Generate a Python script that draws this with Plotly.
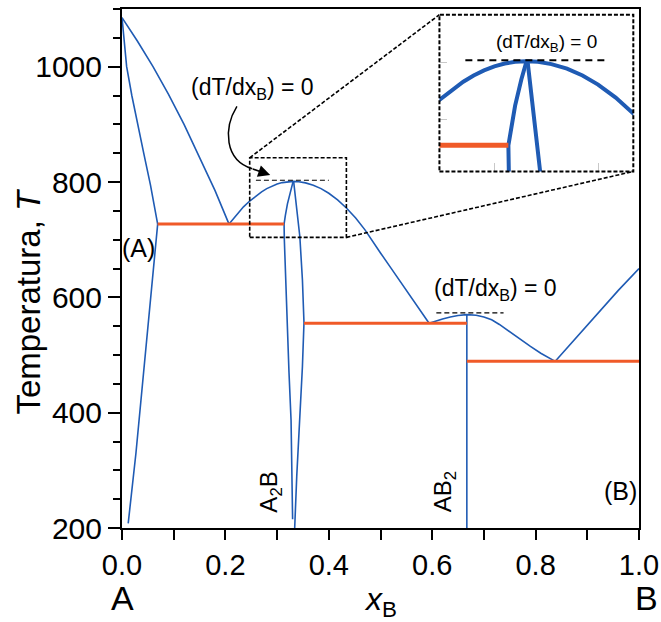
import plotly.graph_objects as go

# ---- phase-diagram data (composition x_B, temperature T) ----
liq_A_x = [0.0, 0.03, 0.06, 0.09, 0.12, 0.15, 0.18, 0.207]
liq_A_T = [1085, 1044, 1000, 952, 900, 844, 785, 727]

sol_A_x = [0.0, 0.009, 0.019, 0.030, 0.042, 0.055, 0.069]
sol_A_T = [1085, 1000, 950, 900, 850, 795, 727]

solv_A_x = [0.069, 0.060, 0.051, 0.040, 0.027, 0.012]
solv_A_T = [727, 640, 560, 450, 330, 208]

liq_A2B_x = [0.207, 0.215, 0.225, 0.235, 0.247, 0.258, 0.270, 0.280, 0.290, 0.300,
             0.310, 0.320, 0.331, 0.342, 0.355, 0.370, 0.385, 0.400, 0.417, 0.434,
             0.452, 0.470, 0.485, 0.500, 0.520, 0.540, 0.557, 0.575, 0.594]
liq_A2B_T = [727, 736, 747, 757, 767, 775, 783, 788.5, 793, 796.5,
             799, 800.5, 801, 800.5, 798.5, 794.5, 788.5, 780.5, 769, 755,
             737.5, 717, 698, 677, 651, 625, 603, 580, 555]

a2b_left_x = [0.331, 0.326, 0.320, 0.316, 0.3135, 0.314, 0.319, 0.323, 0.327, 0.330]
a2b_left_T = [801, 785, 762, 742, 727, 700, 560, 470, 387, 215]

a2b_right_x = [0.332, 0.338, 0.344, 0.349, 0.352, 0.349, 0.343, 0.338, 0.334]
a2b_right_T = [801, 755, 705, 630, 556, 480, 387, 290, 200]

ab2_x = [0.667, 0.667]
ab2_T = [570, 200]

liq_AB2_x = [0.594, 0.605, 0.620, 0.635, 0.650, 0.667, 0.685, 0.700, 0.715, 0.730,
             0.750, 0.770, 0.790, 0.810, 0.838]
liq_AB2_T = [555, 558.5, 562.5, 566, 568.5, 570, 569, 566, 561, 553,
             540, 527, 515, 503, 489]

liq_B_x = [0.838, 0.88, 0.92, 0.96, 1.0]
liq_B_T = [489, 531, 572, 612, 650]

# three-phase (eutectic) horizontals
eut_T = [727, 555, 489]
eut_x0 = [0.069, 0.352, 0.667]
eut_x1 = [0.3135, 0.667, 1.0]

# zero-slope tangents at the congruent maxima
tan_T = [803, 573]
tan_x0 = [0.259, 0.608]
tan_x1 = [0.400, 0.738]

# magnified window
zoom_x = [0.247, 0.434]
zoom_T = [704, 842]

x_ticks = [0.0, 0.2, 0.4, 0.6, 0.8, 1.0]
x_ticklabels = ["0.0", "0.2", "0.4", "0.6", "0.8", "1.0"]
T_ticks = [200, 400, 600, 800, 1000]

BLUE = "#1f5bb4"
RED = "#f05a28"
FONT = "Liberation Sans, Arial, sans-serif"

T_MIN, T_MAX = 200, 1100
inset_dom_x = [0.614, 0.989]
inset_dom_y = [0.687, 0.989]

blue_curves = [
    (liq_A_x, liq_A_T), (sol_A_x, sol_A_T), (solv_A_x, solv_A_T),
    (liq_A2B_x, liq_A2B_T), (a2b_left_x, a2b_left_T), (a2b_right_x, a2b_right_T),
    (ab2_x, ab2_T), (liq_AB2_x, liq_AB2_T), (liq_B_x, liq_B_T),
]

fig = go.Figure()

for axes, bw, rw in [(("x", "y"), 1.6, 3), (("x2", "y2"), 4, 5)]:
    for cx, cT in blue_curves:
        fig.add_trace(go.Scatter(x=cx, y=cT, mode="lines", xaxis=axes[0], yaxis=axes[1],
                                 line=dict(color=BLUE, width=bw), showlegend=False,
                                 hoverinfo="skip"))
    for T, x0, x1 in zip(eut_T, eut_x0, eut_x1):
        fig.add_trace(go.Scatter(x=[x0, x1], y=[T, T], mode="lines", xaxis=axes[0], yaxis=axes[1],
                                 line=dict(color=RED, width=rw), showlegend=False,
                                 hoverinfo="skip"))

shapes = []
# tangent dashes on the main plot
for T, x0, x1 in zip(tan_T, tan_x0, tan_x1):
    shapes.append(dict(type="line", xref="x", yref="y", x0=x0, x1=x1, y0=T, y1=T,
                       line=dict(color="black", width=1.2, dash="5px,3px")))
# tangent dash inside the inset
shapes.append(dict(type="line", xref="x2", yref="y2", x0=0.272, x1=0.407, y0=tan_T[0] - 1,
                   y1=tan_T[0] - 1, line=dict(color="black", width=2, dash="7px,5px")))
# magnified window outline
shapes.append(dict(type="rect", xref="x", yref="y", x0=zoom_x[0], x1=zoom_x[1],
                   y0=zoom_T[0], y1=zoom_T[1], line=dict(color="black", width=1.6, dash="4px,2px")))
# inset border
shapes.append(dict(type="rect", xref="paper", yref="paper", x0=inset_dom_x[0], x1=inset_dom_x[1],
                   y0=inset_dom_y[0], y1=inset_dom_y[1],
                   line=dict(color="black", width=2, dash="4px,2px")))


def to_paper_y(T):
    return (T - T_MIN) / (T_MAX - T_MIN)


# connectors from window corners to inset corners
shapes.append(dict(type="line", xref="paper", yref="paper",
                   x0=zoom_x[0], y0=to_paper_y(zoom_T[1]), x1=inset_dom_x[0], y1=inset_dom_y[1],
                   line=dict(color="black", width=1.6, dash="4px,2px")))
shapes.append(dict(type="line", xref="paper", yref="paper",
                   x0=zoom_x[1], y0=to_paper_y(zoom_T[0]), x1=inset_dom_x[1], y1=inset_dom_y[0],
                   line=dict(color="black", width=1.6, dash="4px,2px")))
# curved pointer from the label towards the maximum
shapes.append(dict(type="path", xref="x", yref="y",
                   path="M 0.2223,931 C 0.196,893 0.198,838 0.252,823",
                   line=dict(color="black", width=1.5)))


def label(x, y, text, size, ref=("x", "y"), angle=0):
    return dict(x=x, y=y, xref=ref[0], yref=ref[1], text=text, showarrow=False,
                xanchor="center", yanchor="middle", textangle=angle,
                font=dict(family=FONT, size=size, color="black"))


annotations = [
    dict(x=0.2867, y=812, ax=0.250, ay=823.5, xref="x", yref="y", axref="x", ayref="y",
         text="", showarrow=True, arrowhead=2, arrowsize=1.6, arrowwidth=1.5, arrowcolor="black"),
    label(0.252, 963, "(dT/dx<sub>B</sub>) = 0", 23),
    label(0.722, 614, "(dT/dx<sub>B</sub>) = 0", 23),
    label(0.350, 817, "(dT/dx<sub>B</sub>) = 0", 19, ref=("x2", "y2")),
    label(0.032, 686, "(A)", 25),
    label(0.964, 265, "(B)", 25),
    label(0.287, 262, "A<sub>2</sub>B", 24, angle=-90),
    label(0.623, 262, "AB<sub>2</sub>", 24, angle=-90),
    label(0.0, -0.1356, "A", 34, ref=("paper", "paper")),
    label(1.015, -0.1356, "B", 34, ref=("paper", "paper")),
    label(0.5, -0.141, "<i>x</i><sub>B</sub>", 32, ref=("paper", "paper")),
    label(-0.181, 0.437, "Temperatura, <i>T</i>", 33, ref=("paper", "paper"), angle=-90),
]

fig.update_layout(
    width=661, height=622,
    margin=dict(l=122, r=22, t=9, b=94),
    plot_bgcolor="white", paper_bgcolor="white",
    showlegend=False,
    shapes=shapes, annotations=annotations,
    xaxis=dict(range=[0, 1], domain=[0, 1], tickvals=x_ticks, ticktext=x_ticklabels,
               ticks="outside", ticklen=10, tickwidth=1.5, tickcolor="black",
               minor=dict(dtick=0.1, tick0=0, ticks="outside", ticklen=10, tickwidth=1.5,
                          tickcolor="black"),
               showline=True, linecolor="black", linewidth=2, mirror=True,
               showgrid=False, zeroline=False, automargin=False,
               ticklabeloverflow="allow",
               tickfont=dict(family=FONT, size=29, color="black")),
    yaxis=dict(range=[T_MIN, T_MAX], domain=[0, 1], tickvals=T_ticks,
               ticks="outside", ticklen=12, tickwidth=1.5, tickcolor="black",
               minor=dict(dtick=50, tick0=200, ticks="outside", ticklen=7, tickwidth=1.5,
                          tickcolor="black"),
               showline=True, linecolor="black", linewidth=2, mirror=True,
               showgrid=False, zeroline=False, automargin=False,
               tickfont=dict(family=FONT, size=30, color="black")),
    xaxis2=dict(range=zoom_x, domain=inset_dom_x, anchor="y2", tickvals=[0.3, 0.4],
                ticks="inside", ticklen=8, tickcolor="#c8c8c8", showticklabels=False,
                showgrid=False, zeroline=False, showline=False),
    yaxis2=dict(range=zoom_T, domain=inset_dom_y, anchor="x2", tickvals=[750, 800],
                ticks="inside", ticklen=8, tickcolor="#c8c8c8", showticklabels=False,
                showgrid=False, zeroline=False, showline=False),
)

fig.write_html("out.html")
